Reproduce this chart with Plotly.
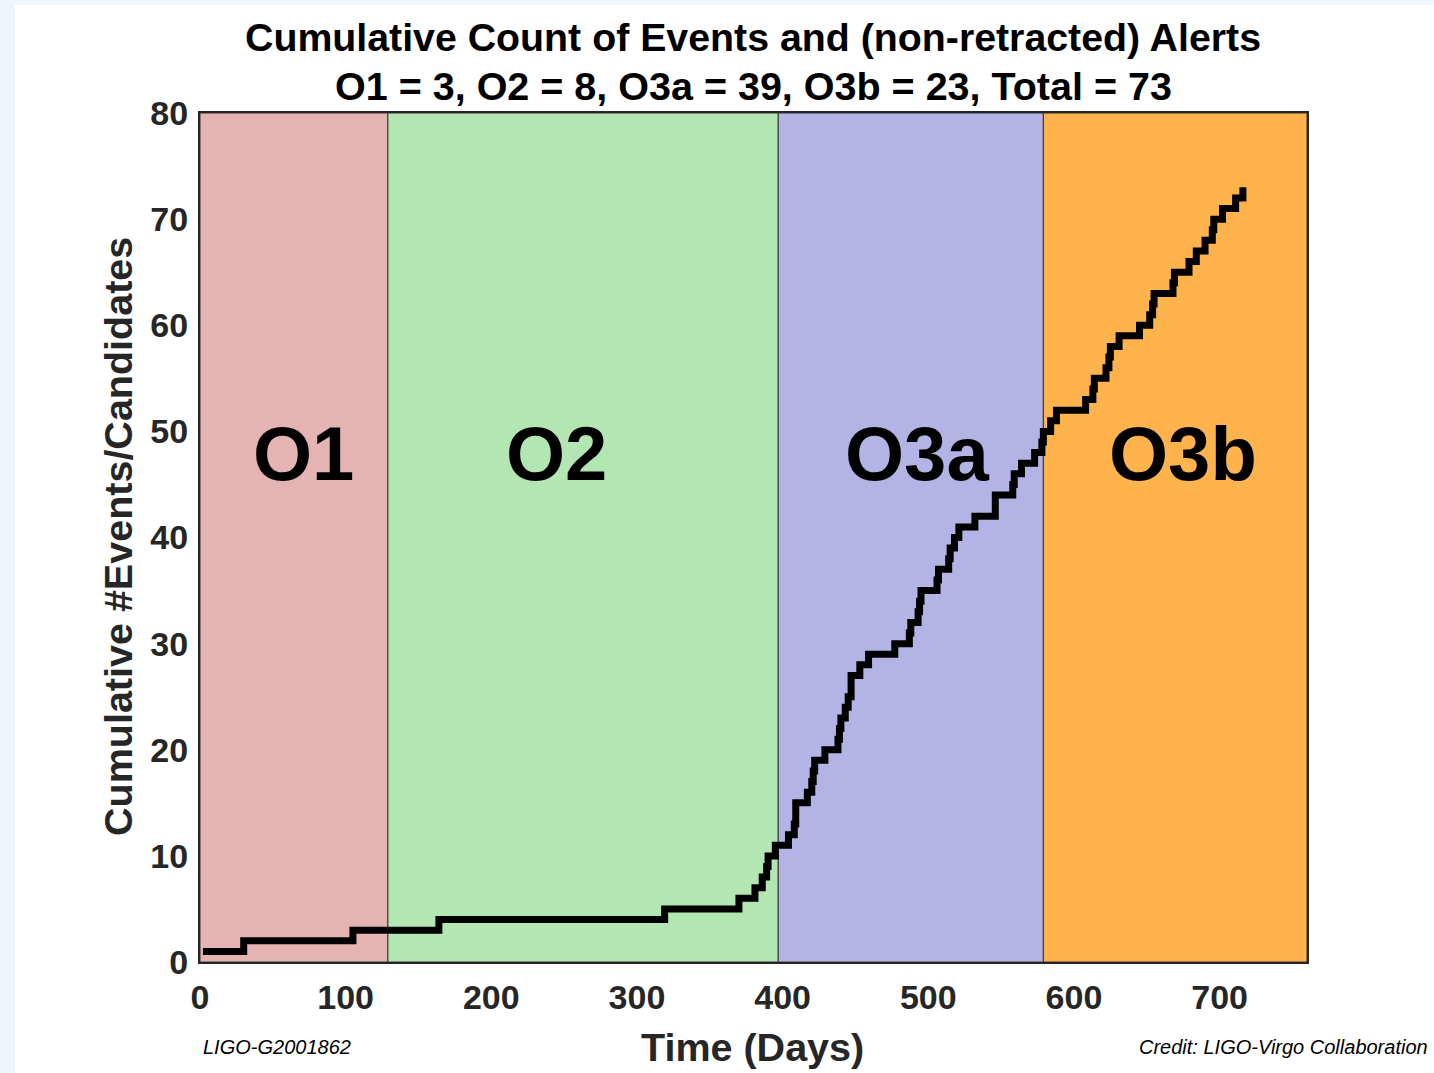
import plotly.graph_objects as go

# ---- data (days since start of O1, observing gaps removed) ----
o1_days = [2, 30, 105]
o2_days = [164, 319, 370, 381, 386, 389, 390, 395]
o3a_days = [404, 408, 409, 409, 417, 420, 421, 422, 429, 438, 439, 440, 443, 445,
            447, 447, 453, 459, 477, 487, 488, 493, 494, 495, 506, 507, 514, 515,
            518, 521, 532, 546, 546, 558, 559, 564, 573, 578, 579]
o3b_days = [584, 588, 608, 613, 614, 622, 624, 625, 631, 645, 652, 654, 655, 668,
            669, 679, 684, 690, 695, 696, 702, 711, 716]

periods = ["O1", "O2", "O3a", "O3b"]
period_start = [0, 129, 397, 579]
period_end = [129, 397, 579, 760]
period_colors = ["#E6B3B3", "#B3E6B3", "#B3B3E6", "#FFB34D"]
label_x = [71, 245, 492, 675]
label_y = 47.9

x_ticks = [0, 100, 200, 300, 400, 500, 600, 700]
y_ticks = [0, 10, 20, 30, 40, 50, 60, 70, 80]

all_days = o1_days + o2_days + o3a_days + o3b_days
counts = []
c = 0
for _ in all_days:
    c += 1
    counts.append(c)

W, H = 1434, 1073
L, R, T, B = 200, 127, 113, 111
pw, ph = W - L - R, H - T - B

def px_x(px):
    return (px - L) / pw

def px_y(py):
    return (H - B - py) / ph

FONT = "Liberation Sans"
DARK = "#262626"

fig = go.Figure()

fig.add_trace(go.Scatter(
    x=all_days, y=counts, mode="lines", line_shape="hv",
    line=dict(color="black", width=7), hoverinfo="skip", showlegend=False,
))

shapes = [
    dict(type="rect", xref="paper", yref="paper",
         x0=px_x(15), x1=px_x(W + 5), y0=px_y(H + 5), y1=px_y(5),
         fillcolor="white", line=dict(width=0), layer="below"),
]
for s, e, col in zip(period_start, period_end, period_colors):
    shapes.append(dict(type="rect", xref="x", yref="y", x0=s, x1=e, y0=0, y1=80,
                       fillcolor=col, line=dict(color="#333333", width=1), layer="below"))

annotations = []
for name, lx in zip(periods, label_x):
    annotations.append(dict(x=lx, y=label_y, xref="x", yref="y", text=name,
                            showarrow=False, xanchor="center", yanchor="middle",
                            font=dict(family=FONT, size=76, color="black", weight="bold")))

def pann(x, y, text, size, color="black", xanchor="center", **kw):
    return dict(x=px_x(x), y=px_y(y), xref="paper", yref="paper", text=text,
                showarrow=False, xanchor=xanchor, yanchor="middle",
                font=dict(family=FONT, size=size, color=color, **kw.pop("fontkw", {})), **kw)

annotations += [
    pann(753, 37, "Cumulative Count of Events and (non-retracted) Alerts", 39.3,
         fontkw=dict(weight="bold")),
    pann(753, 86, "O1 = 3, O2 = 8, O3a = 39, O3b = 23, Total = 73", 39.5,
         fontkw=dict(weight="bold")),
    pann(752, 1047, "Time (Days)", 39.5, color=DARK, fontkw=dict(weight="bold")),
    pann(118, 537, "Cumulative #Events/Candidates", 39.5, color=DARK, textangle=-90,
         fontkw=dict(weight="bold")),
    pann(201, 1047, "LIGO-G2001862", 20, xanchor="left", fontkw=dict(style="italic")),
    pann(1137, 1047, "Credit: LIGO-Virgo Collaboration", 20, xanchor="left",
         fontkw=dict(style="italic")),
]

fig.update_layout(
    width=W, height=H,
    margin=dict(l=L, r=R, t=T, b=B, pad=0),
    paper_bgcolor="#EEF5FB", plot_bgcolor="white",
    shapes=shapes, annotations=annotations, showlegend=False,
    xaxis=dict(range=[0, 760], tickvals=x_ticks, ticks="", showgrid=False, zeroline=False,
               showline=True, mirror=True, linecolor=DARK, linewidth=2,
               tickfont=dict(family=FONT, size=34, color=DARK, weight="bold"),
               ticklabelstandoff=4),
    yaxis=dict(range=[0, 80], tickvals=y_ticks, ticks="", showgrid=False, zeroline=False,
               showline=True, mirror=True, linecolor=DARK, linewidth=2,
               tickfont=dict(family=FONT, size=34, color=DARK, weight="bold"),
               ticklabelstandoff=3),
)

fig.write_html("out.html")
